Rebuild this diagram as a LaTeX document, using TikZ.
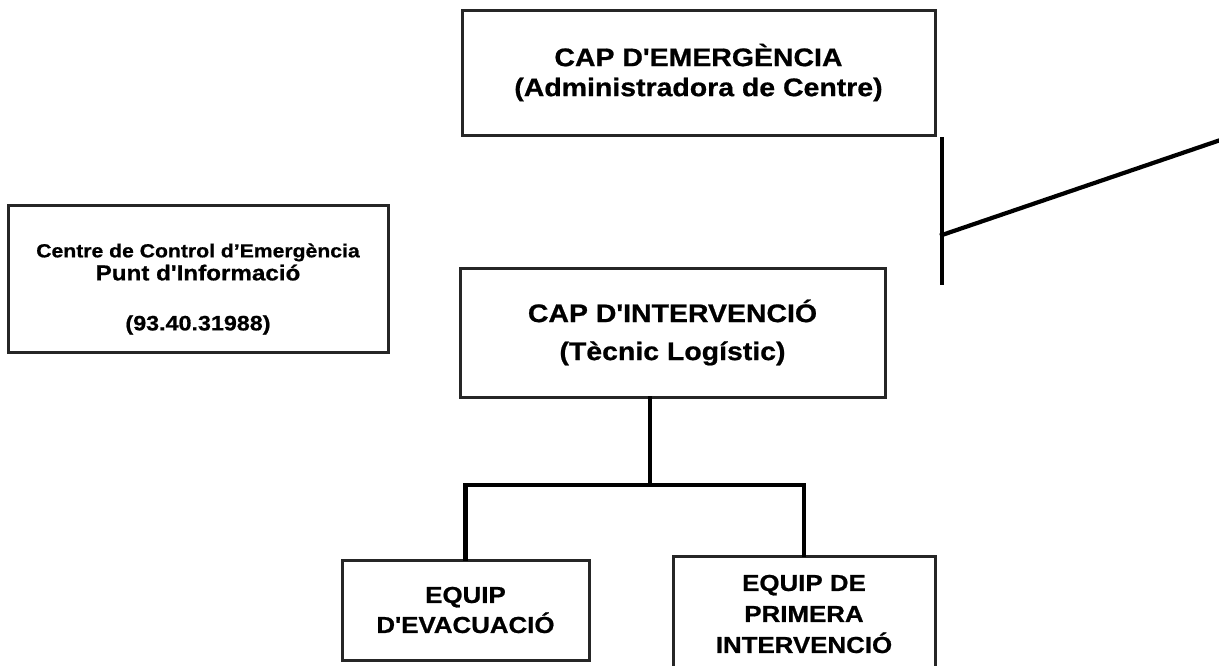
\documentclass[tikz,border=0pt]{standalone}
\usepackage{fontspec}
\newfontfamily\orgfont[FakeStretch=1.12,Ligatures=TeXOff,BoldFeatures={FakeBold=0.8}]{Liberation Sans}
\usetikzlibrary{positioning}
\tikzset{
	orgbox/.style = {
			draw       = black!85,
			line width = 3pt,
			inner sep  = 0pt,
			align      = center,
		},
	link/.style = {
			line width = 4.2pt,
			line cap   = rect,
		}
}

\begin{document}
\begin{tikzpicture}[x=1pt,y=-1pt]
	\useasboundingbox (0,0) rectangle (1219,665);
	\clip (0,0) rectangle (1219,665);

	\node[orgbox, minimum width=473pt, minimum height=125pt, font=\orgfont\bfseries\fontsize{25.4pt}{30pt}\selectfont] (cemer) at (698.5,72.5) {CAP D'EMERGÈNCIA\\(Administradora de Centre)};
	\node[orgbox, minimum width=380pt, minimum height=147pt, font=\orgfont\bfseries\fontsize{21.6pt}{23pt}\selectfont] (ccc) at (198,278.5) {\rule{0pt}{35pt}{\fontsize{18.9pt}{23pt}\selectfont Centre de Control d’Emergència}\\Punt d'Informació\\[27pt]{\fontsize{20.8pt}{23pt}\selectfont (93.40.31988)}};
	\node[orgbox, minimum width=425pt, minimum height=129pt, font=\orgfont\bfseries\fontsize{25.4pt}{38pt}\selectfont] (cint) at (672.5,332.5) {CAP D'INTERVENCIÓ\\(Tècnic Logístic)};
	\node[orgbox, minimum width=247pt, minimum height=100pt, font=\orgfont\bfseries\fontsize{23.1pt}{30pt}\selectfont] (evac) at (465.5,610) {EQUIP\\D'EVACUACIÓ};
	\node[orgbox, minimum width=262pt, minimum height=116pt, font=\orgfont\bfseries\fontsize{23.1pt}{31pt}\selectfont] (prim) at (804,614) {EQUIP DE\\PRIMERA\\INTERVENCIÓ};

	% tree under the intervention box
	\coordinate (split) at (650,485);
	\draw[link] (cint.south -| split) -- (split);
	\draw[link] (evac.north) |- (split) -| (prim.north);

	% loose lines on the right
	\coordinate (vtop) at (942,139);
	\coordinate (vbot) at (942,283);
	\coordinate (vjoin) at (942,235);
	\coordinate (offpage) at (1219,140.5);
	\draw[link] (vtop) -- (vbot);
	\draw[link] (vjoin) -- (offpage);
\end{tikzpicture}
\end{document}
